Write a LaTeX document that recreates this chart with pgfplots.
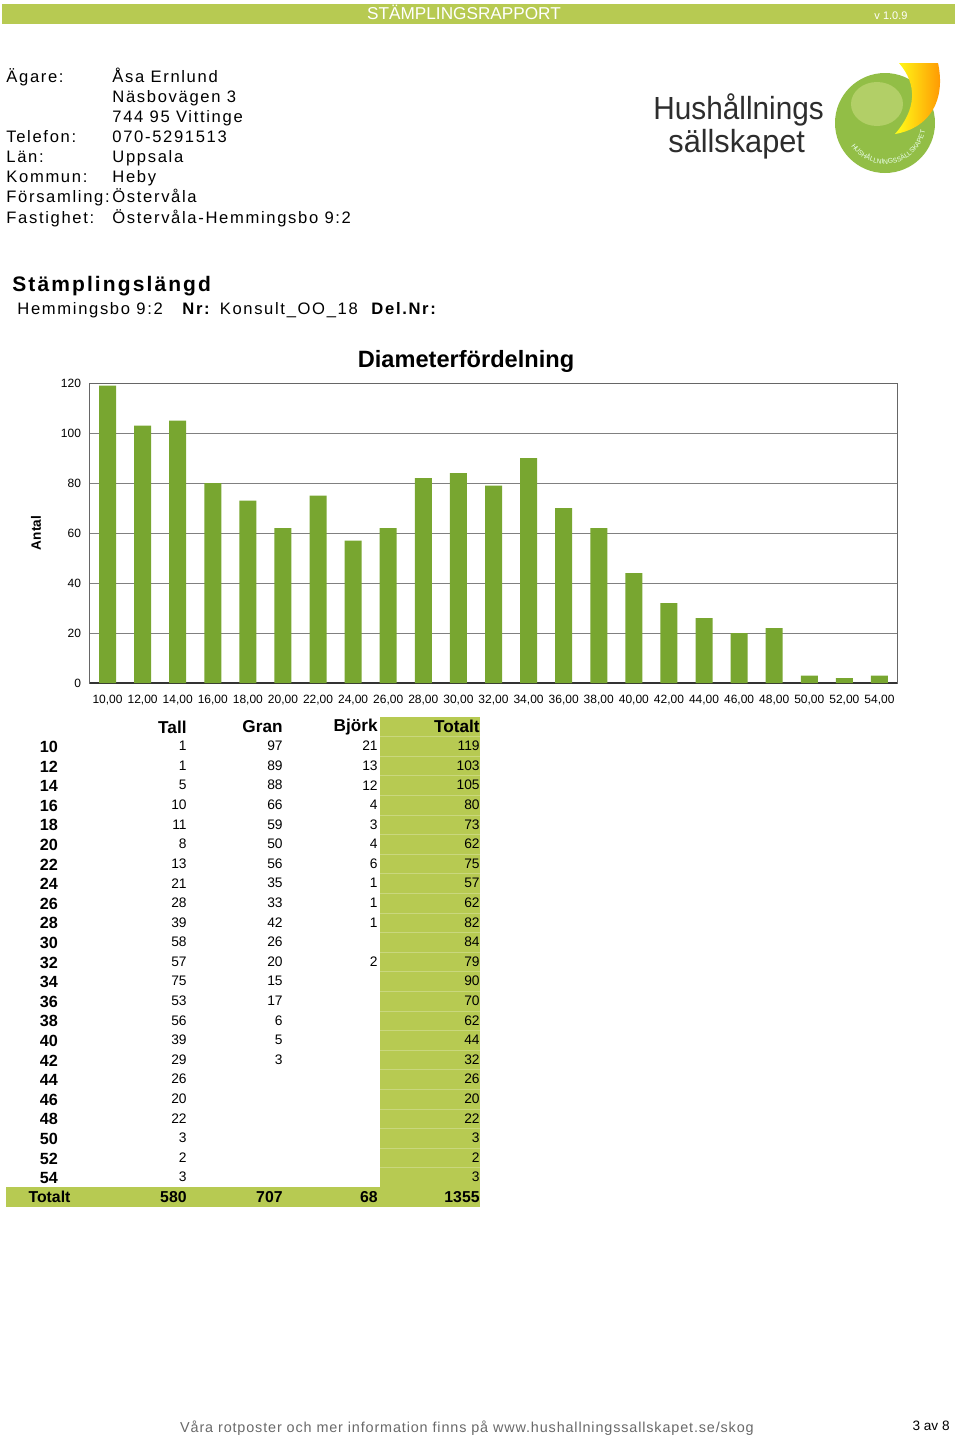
\documentclass[border=0pt]{standalone}
\usepackage{pgfplots}
\pgfplotsset{compat=1.18}
\usepackage{fontspec}
\setmainfont{Liberation Sans}
\newfontfamily\trk[LetterSpace=10]{Liberation Sans}
\newfontfamily\trkf[LetterSpace=6]{Liberation Sans}
\usetikzlibrary{decorations.text}
\definecolor{hdr}{RGB}{183,202,82}
\definecolor{barg}{RGB}{120,166,48}
\definecolor{logog}{RGB}{146,190,70}
\definecolor{logol}{RGB}{186,212,112}
\definecolor{logot}{RGB}{45,45,45}
\definecolor{foot}{RGB}{105,105,105}
\begin{document}
\begin{tikzpicture}
\begin{scope}[x=0.5pt,y=-0.5pt]
\path[use as bounding box] (0,0) rectangle (960,1436);
% header bar
\fill[hdr] (2,4) rectangle (955,24);
\node[anchor=base, text=white, font=\fontsize{8.6}{10}\selectfont, inner sep=0] at (464,19.5) {STÄMPLINGSRAPPORT};
\node[anchor=base, text=white, font=\fontsize{5.5}{6}\selectfont, inner sep=0] at (891,19) {v 1.0.9};
% owner info
\foreach \y/\l in {76/Ägare:, 136/Telefon:, 156/Län:, 176/Kommun:, 196/Församling:, 217/Fastighet:}
  \node[anchor=base west, inner sep=0, font=\trk\fontsize{8.3}{10}\selectfont] at (6,\y+6) {\l};
\foreach \y/\l in {76/Åsa Ernlund, 96/Näsbovägen 3, 116/744 95 Vittinge, 136/070-5291513, 156/Uppsala, 176/Heby, 196/Östervåla, 217/Östervåla-Hemmingsbo 9:2}
  \node[anchor=base west, inner sep=0, font=\trk\fontsize{8.3}{10}\selectfont] at (112,\y+6) {\l};
% logo
\node[anchor=base west, inner sep=0, text=logot, font=\fontsize{16}{18}\selectfont] at (653,119) {\scalebox{0.93}[1]{Hushållnings}};
\node[anchor=base west, inner sep=0, text=logot, font=\fontsize{16}{18}\selectfont] at (668,152) {\scalebox{0.96}[1]{sällskapet}};
\fill[logog] (885,123) circle[radius=50];
\fill[logol, opacity=0.8] (877,104) ellipse[x radius=26, y radius=22];
\shade[left color=yellow!90!white, right color=orange!90!yellow] (899,63) -- (938,63) .. controls (946,100) and (930,128) .. (895,134) .. controls (916,110) and (918,85) .. (899,63) -- cycle;
\end{scope}
\path[decorate, decoration={text along path, text align=center, text={|\fontsize{3.4}{4}\selectfont\color{white!92!green}|HUSHÅLLNINGSSÄLLSKAPET}}]
  (442.5pt,-61.5pt) ++(195:20.5pt) arc[start angle=195, end angle=368, radius=20.5pt];
\begin{scope}[x=0.5pt,y=-0.5pt]
% section title
\node[anchor=base west, inner sep=0, font=\trk\bfseries\fontsize{10.5}{12}\selectfont] at (12,291) {Stämplingslängd};
\node[anchor=base west, inner sep=0, font=\trk\fontsize{8.3}{10}\selectfont] at (17,314) {Hemmingsbo 9:2\hspace{9pt}\textbf{Nr:} Konsult\_OO\_18\hspace{6pt}\textbf{Del.Nr:}};
% chart title
\node[anchor=base, inner sep=0, font=\bfseries\fontsize{11.8}{14}\selectfont] at (466,367) {Diameterfördelning};
% table
\fill[hdr] (380,717) rectangle (480,1187);
\fill[hdr] (6,1187) rectangle (480,1207);
\foreach \k in {0,...,22} {
  \pgfmathsetmacro\yy{736.4+19.6*\k}
  \draw[hdr!75!white, line width=0.3pt] (380,\yy) -- (480,\yy);
}
\node[anchor=east, inner sep=0, font=\bfseries\fontsize{8.6}{10}\selectfont] at (187,727) {Tall};
\node[anchor=east, inner sep=0, font=\bfseries\fontsize{8.6}{10}\selectfont] at (283,727) {Gran};
\node[anchor=east, inner sep=0, font=\bfseries\fontsize{8.6}{10}\selectfont] at (378,727) {Björk};
\node[anchor=east, inner sep=0, font=\bfseries\fontsize{8.6}{10}\selectfont] at (480,726) {Totalt};
\foreach \d/\ta/\gr/\bj/\to [count=\i from 0] in {10/1/97/21/119, 12/1/89/13/103, 14/5/88/12/105, 16/10/66/4/80, 18/11/59/3/73, 20/8/50/4/62, 22/13/56/6/75, 24/21/35/1/57, 26/28/33/1/62, 28/39/42/1/82, 30/58/26/ /84, 32/57/20/2/79, 34/75/15/ /90, 36/53/17/ /70, 38/56/6/ /62, 40/39/5/ /44, 42/29/3/ /32, 44/26/ / /26, 46/20/ / /20, 48/22/ / /22, 50/3/ / /3, 52/2/ / /2, 54/3/ / /3} {
  \pgfmathsetmacro\yy{746+19.6*\i}
  \node[anchor=center, inner sep=0, font=\bfseries\fontsize{8.1}{10}\selectfont] at (49,\yy+1) {\d};
  \node[anchor=east, inner sep=0, font=\fontsize{6.9}{8}\selectfont] at (187,\yy) {\ta};
  \node[anchor=east, inner sep=0, font=\fontsize{6.9}{8}\selectfont] at (283,\yy) {\gr};
  \node[anchor=east, inner sep=0, font=\fontsize{6.9}{8}\selectfont] at (378,\yy) {\bj};
  \node[anchor=east, inner sep=0, font=\fontsize{6.9}{8}\selectfont] at (480,\yy) {\to};
}
\node[anchor=center, inner sep=0, font=\bfseries\fontsize{7.9}{10}\selectfont] at (49.5,1197) {Totalt};
\node[anchor=east, inner sep=0, font=\bfseries\fontsize{7.9}{10}\selectfont] at (187,1197) {580};
\node[anchor=east, inner sep=0, font=\bfseries\fontsize{7.9}{10}\selectfont] at (283,1197) {707};
\node[anchor=east, inner sep=0, font=\bfseries\fontsize{7.9}{10}\selectfont] at (378,1197) {68};
\node[anchor=east, inner sep=0, font=\bfseries\fontsize{7.9}{10}\selectfont] at (480,1197) {1355};
% footer
\node[anchor=base, inner sep=0, text=foot, font=\trkf\fontsize{7.2}{9}\selectfont] at (467,1432) {Våra rotposter och mer information finns på www.hushallningssallskapet.se/skog};
\node[anchor=base east, inner sep=0, font=\fontsize{6.8}{8}\selectfont] at (950,1430) {3 av 8};
\end{scope}
\begin{axis}[
  at={(45pt,-341.5pt)}, anchor=south west,
  scale only axis, width=403.5pt, height=150pt,
  ymin=0, ymax=120, ytick={0,20,...,120},
  xmin=-0.5, xmax=22.5, xtick={0,...,22},
  xticklabels={{10,00},{12,00},{14,00},{16,00},{18,00},{20,00},{22,00},{24,00},{26,00},{28,00},{30,00},{32,00},{34,00},{36,00},{38,00},{40,00},{42,00},{44,00},{46,00},{48,00},{50,00},{52,00},{54,00}},
  major tick length=0pt,
  /pgf/number format/assume math mode=true,
  tick label style={font=\fontsize{6}{7}\selectfont},
  yticklabel style={xshift=-1pt},
  xticklabel style={yshift=-2.3pt},
  ymajorgrids, major grid style={black!50, line width=0.5pt},
  axis line style={black!60, line width=0.5pt},
  extra y ticks={0}, extra y tick labels={},
  extra y tick style={major grid style={black!80, line width=1pt}},
  ylabel={Antal},
  ylabel style={at={(axis description cs:-0.0669,0.5)}, anchor=center, font=\bfseries\fontsize{6.8}{8}\selectfont},
  clip=false,
]
\addplot[ybar, bar width=8.5pt, bar shift=0pt, fill=barg, draw=none] coordinates {
(0,119) (1,103) (2,105) (3,80) (4,73) (5,62) (6,75) (7,57) (8,62) (9,82) (10,84) (11,79)
(12,90) (13,70) (14,62) (15,44) (16,32) (17,26) (18,20) (19,22) (20,3) (21,2) (22,3)};
\end{axis}
\end{tikzpicture}
\end{document}
